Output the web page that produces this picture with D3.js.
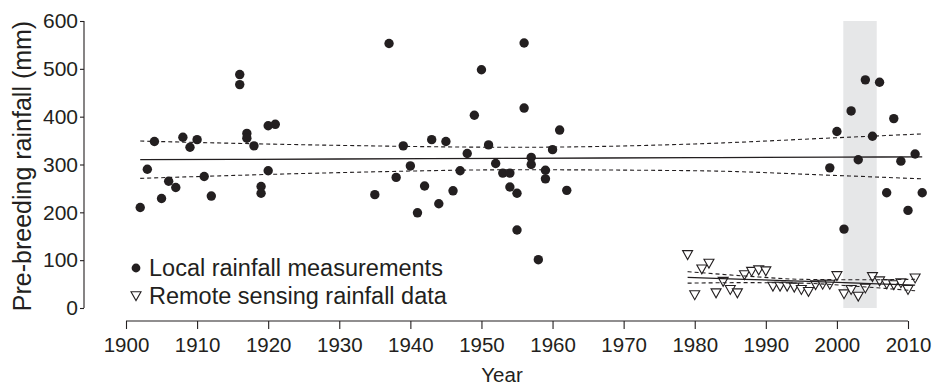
<!DOCTYPE html>
<html>
<head>
<meta charset="utf-8">
<script src="https://cdn.jsdelivr.net/npm/d3@7"></script>
<style>
  body { margin: 0; background: #fff; }
  svg text { font-family: "Liberation Sans", Arial, Helvetica, sans-serif; fill: #231f20; }
</style>
</head>
<body>
<svg id="chart" width="935" height="385"></svg>
<script>
'use strict';

// local rainfall measurements (year, mm)
let localYears = [1902, 1903, 1904, 1905, 1906, 1907, 1908, 1909, 1910, 1911, 1912,
    1916, 1916, 1917, 1917, 1918, 1919, 1919, 1920, 1920, 1921,
    1935, 1937, 1938, 1939, 1940, 1941, 1942, 1943, 1944, 1945, 1946, 1947, 1948, 1949,
    1950, 1951, 1952, 1953, 1954, 1954, 1955, 1955, 1956, 1956, 1957, 1957, 1958,
    1959, 1959, 1960, 1961, 1962,
    1999, 2000, 2001, 2002, 2003, 2004, 2005, 2006, 2007, 2008, 2009, 2010, 2011, 2012];
let localRain = [210, 290, 348, 229, 265, 252, 357, 336, 352, 275, 234,
    488, 467, 365, 355, 339, 254, 240, 287, 381, 384,
    237, 553, 273, 339, 297, 199, 255, 352, 218, 348, 245, 287, 323, 403,
    498, 341, 302, 282, 282, 253, 240, 163, 554, 418, 315, 300, 101,
    288, 270, 331, 372, 246,
    293, 369, 165, 412, 310, 477, 359, 472, 241, 396, 307, 204, 322, 241];

// remote sensing rainfall data
let remoteYears = [1979, 1980, 1981, 1982, 1983, 1984, 1985, 1986, 1987, 1988, 1989,
    1990, 1991, 1992, 1993, 1994, 1995, 1996, 1997, 1998, 1999, 2000,
    2001, 2002, 2003, 2004, 2005, 2006, 2007, 2008, 2009, 2010, 2011];
let remoteRain = [111, 27, 81, 93, 31, 55, 38, 31, 69, 76, 79,
    77, 45, 45, 45, 43, 38, 34, 48, 49, 49, 67,
    29, 38, 24, 41, 65, 56, 50, 48, 52, 38, 62];

// fitted trend and confidence limits
let localFitYears = [1902, 1930, 1955, 1980, 2000, 2012];
let localFit = [310, 311.5, 313, 314.3, 315.3, 316];
let localUpper = [349, 340, 336, 343, 356, 364];
let localLower = [271, 283, 289, 287, 277, 270];

let remoteFitYears = [1979, 1987, 1995, 2003, 2011];
let remoteFit = [64, 60, 56, 52, 48];
let remoteUpper = [76, 67, 60, 59, 60];
let remoteLower = [52, 53, 52, 45, 36];

// shaded period
let shadeYears = [2000.9, 2005.6];

let xTicks = d3.range(1900, 2011, 10);
let yTicks = d3.range(0, 601, 100);

let ink = '#231f20';
let svg = d3.select('#chart');

let x = d3.scaleLinear().domain([1900, 2010]).range([126, 908]);
let y = d3.scaleLinear().domain([0, 600]).range([308, 21]);

// grey band
svg.append('rect')
    .attr('x', x(shadeYears[0]))
    .attr('width', x(shadeYears[1]) - x(shadeYears[0]))
    .attr('y', y(600))
    .attr('height', y(0) - y(600))
    .attr('fill', '#e6e7e8');

// axes
let yAxis = svg.append('g')
    .attr('transform', 'translate(84,0)')
    .call(d3.axisLeft(y).tickValues(yTicks).tickSize(4).tickPadding(2));
let xAxis = svg.append('g')
    .attr('transform', 'translate(0,321)')
    .call(d3.axisBottom(x).tickValues(xTicks).tickFormat(d3.format('d'))
        .tickSize(8).tickPadding(8));
[xAxis, yAxis].forEach(function(g) {
    g.selectAll('path, line').attr('stroke', ink).attr('stroke-width', 1.1);
    g.select('.domain').attr('d', null);
    g.selectAll('text').attr('fill', ink);
});
xAxis.selectAll('text').style('font-size', '20.5px');
yAxis.selectAll('text').style('font-size', '21px');
xAxis.append('line').attr('x1', x(1900)).attr('x2', x(2010))
    .attr('stroke', ink).attr('stroke-width', 1.1);
yAxis.append('line').attr('y1', y(0)).attr('y2', y(600))
    .attr('stroke', ink).attr('stroke-width', 1.1);

svg.append('text')
    .attr('x', 502).attr('y', 382)
    .attr('text-anchor', 'middle')
    .style('font-size', '20.5px')
    .text('Year');
svg.append('text')
    .attr('transform', 'translate(31,166) rotate(-90)')
    .attr('text-anchor', 'middle')
    .style('font-size', '25px')
    .text('Pre-breeding rainfall (mm)');

// trend lines
function drawLine(years, vals, dashed) {
    let line = d3.line()
        .x(function(d, i) { return x(years[i]); })
        .y(function(d) { return y(d); })
        .curve(d3.curveMonotoneX);
    svg.append('path')
        .attr('d', line(vals))
        .attr('fill', 'none')
        .attr('stroke', ink)
        .attr('stroke-width', dashed ? 1.1 : 1.3)
        .attr('stroke-dasharray', dashed ? '4,3' : null);
}
drawLine(localFitYears, localFit, false);
drawLine(localFitYears, localUpper, true);
drawLine(localFitYears, localLower, true);

// points
let tri = 'M-5,-4.3L5,-4.3L0,4.6Z';
svg.append('g').selectAll('path')
    .data(remoteRain)
    .enter().append('path')
    .attr('d', tri)
    .attr('transform', function(d, i) {
        return 'translate(' + x(remoteYears[i]) + ',' + y(d) + ')';
    })
    .attr('fill', '#fff')
    .attr('stroke', ink)
    .attr('stroke-width', 1.1);

drawLine(remoteFitYears, remoteFit, false);
drawLine(remoteFitYears, remoteUpper, true);
drawLine(remoteFitYears, remoteLower, true);

svg.append('g').selectAll('circle')
    .data(localRain)
    .enter().append('circle')
    .attr('cx', function(d, i) { return x(localYears[i]); })
    .attr('cy', function(d) { return y(d); })
    .attr('r', 4.7)
    .attr('fill', ink);

// legend
let legend = svg.append('g');
legend.append('circle').attr('cx', 136).attr('cy', 268).attr('r', 4.4).attr('fill', ink);
legend.append('path').attr('d', tri)
    .attr('transform', 'translate(136,296)')
    .attr('fill', '#fff').attr('stroke', ink).attr('stroke-width', 1.1);
legend.append('text').attr('x', 149).attr('y', 268).attr('dy', '0.36em')
    .style('font-size', '23.5px').text('Local rainfall measurements');
legend.append('text').attr('x', 149).attr('y', 296).attr('dy', '0.36em')
    .style('font-size', '23.5px').text('Remote sensing rainfall data');
</script>
</body>
</html>
